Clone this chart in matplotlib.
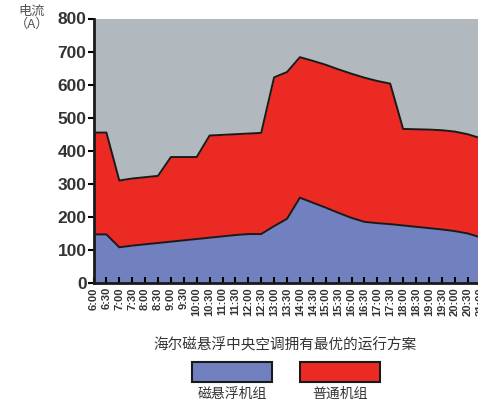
import numpy as np
import matplotlib
matplotlib.use("Agg")
import matplotlib.pyplot as plt
from matplotlib.patches import Rectangle

# half-hour slots, 6:00 - 21:00
times = ["6:00", "6:30", "7:00", "7:30", "8:00", "8:30", "9:00", "9:30",
         "10:00", "10:30", "11:00", "11:30", "12:00", "12:30", "13:00", "13:30",
         "14:00", "14:30", "15:00", "15:30", "16:00", "16:30", "17:00", "17:30",
         "18:00", "18:30", "19:00", "19:30", "20:00", "20:30", "21:00"]

# current of the maglev unit (A)
maglev = [147, 147, 108, 113, 117, 121, 125, 129,
          133, 137, 141, 145, 148, 148, 172, 194,
          258, 243, 228, 212, 197, 185, 181, 178,
          174, 170, 166, 162, 157, 150, 138]

# current of the ordinary unit, top of the stack (A)
ordinary_top = [455, 455, 310, 316, 320, 324, 381, 381,
                381, 446, 448, 450, 452, 454, 622, 638,
                683, 672, 660, 646, 633, 621, 611, 603,
                466, 465, 464, 462, 458, 450, 438]

ymax = 800
yticks = [0, 100, 200, 300, 400, 500, 600, 700, 800]

c_gray = "#b1b9bf"
c_red = "#ec2a24"
c_blue = "#7180be"
c_text = "#333333"

x = np.arange(len(times))
maglev = np.array(maglev)
ordinary_top = np.array(ordinary_top)

fig = plt.figure(figsize=(4.78, 4.01), dpi=100)
ax = fig.add_axes([93.5 / 478, 118 / 401, 387 / 478, 264.5 / 401])

ax.fill_between(x, ordinary_top, ymax, color=c_gray, lw=0)
ax.fill_between(x, maglev, ordinary_top, color=c_red, lw=0)
ax.fill_between(x, 0, maglev, color=c_blue, lw=0)
ax.plot(x, ordinary_top, color="#1a1a1a", lw=1.4)
ax.plot(x, maglev, color="#1a1a1a", lw=1.4)

ax.set_xlim(0, len(times) - 1)
ax.set_ylim(0, ymax)
ax.set_yticks(yticks)
ax.set_yticklabels([str(v) for v in yticks], fontfamily="Liberation Sans",
                   fontweight="bold", fontsize=12.5, color=c_text)
ax.set_xticks(x)
ax.set_xticklabels(times, rotation=90, fontfamily="Liberation Sans",
                   fontweight="bold", fontsize=8, color=c_text)

for s in ["top", "right"]:
    ax.spines[s].set_visible(False)
for s in ["left", "bottom"]:
    ax.spines[s].set_linewidth(2)
    ax.spines[s].set_color("#1a1a1a")
ax.tick_params(axis="y", direction="out", length=4, width=1.5, pad=1)
ax.tick_params(axis="x", direction="in", length=4, width=1.5, pad=3)

cjk = ["Noto Sans CJK SC", "DejaVu Sans"]
fig.text(32 / 478, 1 - 18 / 401, "电流\n（A）", ha="center", va="center",
         fontsize=9.5, color="#555555", family=cjk, linespacing=0.95)

fig.text(285 / 478, 1 - 345 / 401, "海尔磁悬浮中央空调拥有最优的运行方案",
         ha="center", va="center", fontsize=10.5, color=c_text, family=cjk)

# legend boxes with captions underneath
for x0, col, label in [(192, c_blue, "磁悬浮机组"), (300, c_red, "普通机组")]:
    fig.patches.append(Rectangle((x0 / 478, 1 - 382 / 401), 80 / 478, 20 / 401,
                                 transform=fig.transFigure, facecolor=col,
                                 edgecolor="#1a1a1a", lw=1.5))
    fig.text((x0 + 40) / 478, 1 - 394 / 401, label, ha="center", va="center",
             fontsize=10, color=c_text, family=cjk)

fig.savefig("out.png", dpi=100)
